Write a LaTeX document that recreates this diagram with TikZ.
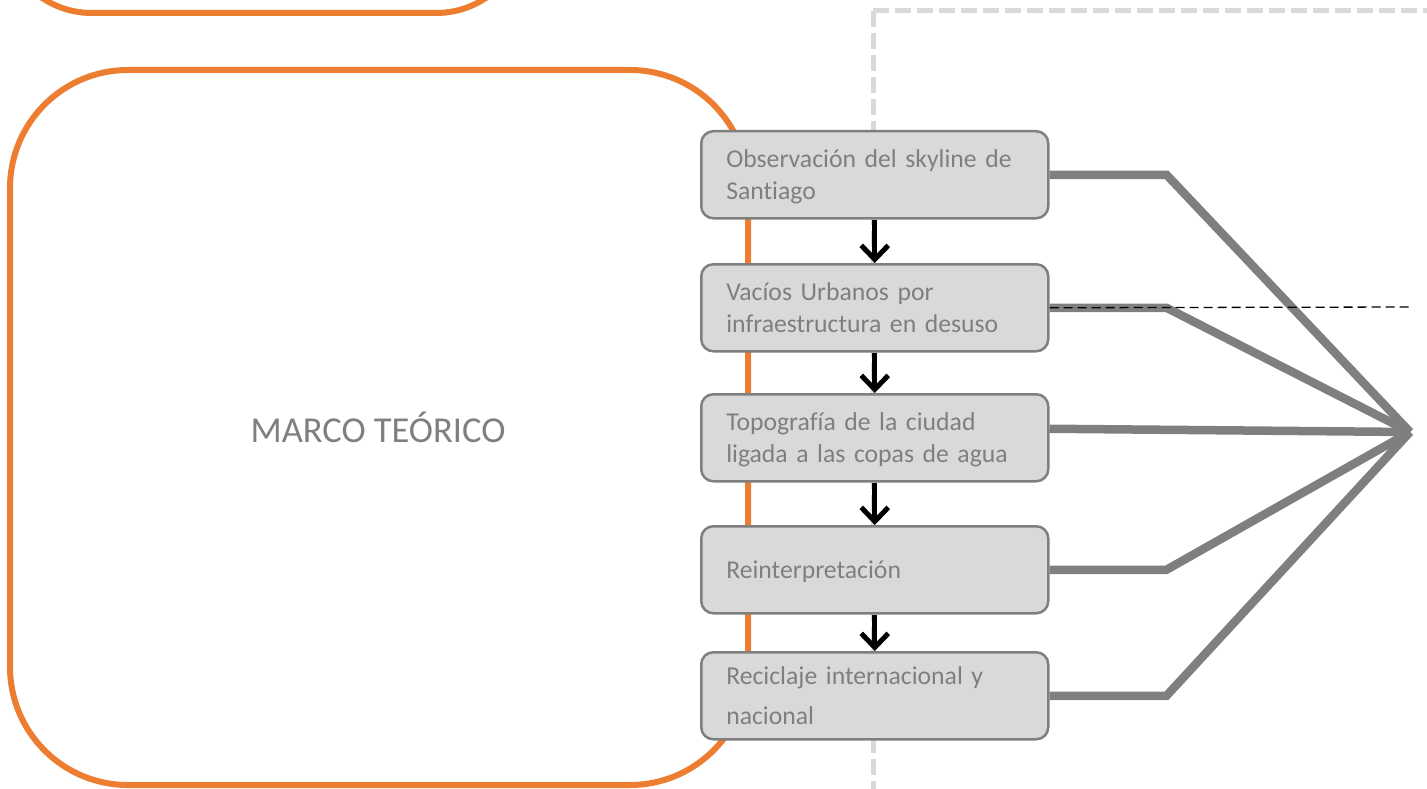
\documentclass[tikz,border=0pt]{standalone}
\usepackage{fontspec}
\setmainfont{Carlito}[Ligatures=NoCommon]
\usetikzlibrary{arrows.meta}
\tikzset{>={Straight Barb[length=14pt,width=27pt]}}
\definecolor{marco}{HTML}{ED7D31}
\definecolor{relleno}{HTML}{D9D9D9}
\definecolor{gris}{HTML}{7F7F7F}
\newcommand{\pasofont}{\fontsize{25.7}{32}\selectfont}
\newcommand{\titulofont}{\fontsize{36.5}{44}\selectfont}
\newcommand{\arriba}{\rule{0pt}{26pt}}
\newcommand{\abajo}{\rule[-8pt]{0pt}{8pt}}

\begin{document}
\begin{tikzpicture}[x=1pt,y=-1pt,
    paso/.style={draw=gris,fill=relleno,line width=2.5pt,rounded corners=12pt,
      anchor=north west,minimum height=87pt,text width=297pt,inner xsep=25pt,
      align=left,text=gris,font=\pasofont},
    enlace/.style={gris,line width=8.5pt}]
  \clip (0,0) rectangle (1427,789);
  % marcos naranjas
  \draw[marco,line width=6pt,rounded corners=90pt] (2,-300) rectangle (526,13);
  \draw[marco,line width=6pt,rounded corners=118pt] (10,70) rectangle (748,785);
  \node[text=gris,font=\titulofont,anchor=base] (titulo) at (378,442) {MARCO TEÓRICO};
  % borde punteado
  \draw[relleno,line width=5pt,dash pattern=on 16pt off 6pt] (873,11) -- (873,800);
  \draw[relleno,line width=5pt,dash pattern=on 16pt off 6pt] (873,11) -- (1440,11);
  % pasos
  \node[paso] (obs) at (700,130) {\arriba Observación del skyline de\\Santiago\abajo};
  \node[paso] (vac) at (700,263) {\arriba Vacíos Urbanos por\\infraestructura en desuso\abajo};
  \node[paso] (topo) at (700,393) {\arriba Topografía de la ciudad\\ligada a las copas de agua\abajo};
  \node[paso] (rein) at (700,525) {\arriba Reinterpretación\abajo};
  \node[paso] (reci) at (700,651) {\arriba Reciclaje internacional y\\[8pt]nacional\abajo};
  \draw[->,line width=5pt] (obs.south) -- (vac.north);
  \draw[->,line width=5pt] (vac.south) -- (topo.north);
  \draw[->,line width=5pt] (topo.south) -- (rein.north);
  \draw[->,line width=5pt] (rein.south) -- (reci.north);
  % enlaces al centro
  \coordinate (centro) at (1410,432);
  \draw[enlace] (obs.east) -- ++(117,0) -- (centro);
  \draw[enlace] (vac.east) -- ++(117,0) -- (centro);
  \draw[enlace] ([yshift=9pt]topo.east) -- (centro);
  \draw[enlace] (rein.east) -- ++(117,0) -- (centro);
  \draw[enlace] (reci.east) -- ++(117,0) -- (centro);
  \coordinate (corte) at (1412,307);
  \draw[line width=1.3pt,dash pattern=on 9pt off 5pt] (vac.east) -- (corte);
\end{tikzpicture}
\end{document}
